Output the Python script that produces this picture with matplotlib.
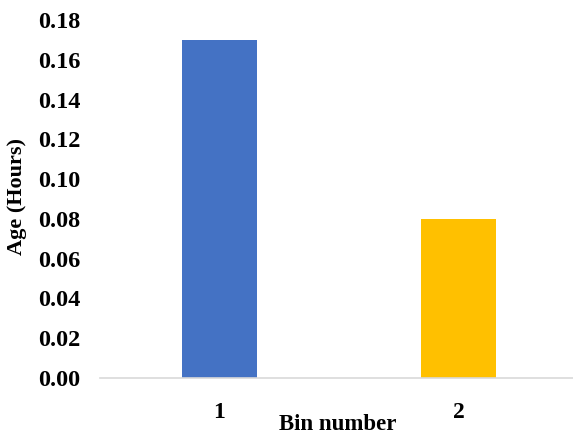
import matplotlib
matplotlib.use("Agg")
import matplotlib.pyplot as plt

# Data
bins = ["1", "2"]
age_hours = [0.17, 0.08]
bar_colors = ["#4472C4", "#FFC000"]
y_ticks = [0.00, 0.02, 0.04, 0.06, 0.08, 0.10, 0.12, 0.14, 0.16, 0.18]

plt.rcParams["font.family"] = ["Liberation Serif", "DejaVu Serif"]
plt.rcParams["font.weight"] = "bold"

W, H = 573, 434
fig = plt.figure(figsize=(W / 100, H / 100), dpi=100)

# plot area in pixel terms: x 100..578, y 20..378
left, right, top, bottom = 100, 578, 20, 378
ax = fig.add_axes([left / W, 1 - bottom / H, (right - left) / W, (bottom - top) / H])

x = list(range(1, len(bins) + 1))
ax.bar(x, age_hours, width=0.314, color=bar_colors, zorder=2)

ax.set_xlim(0.5, len(bins) + 0.5)
ax.set_ylim(0, 0.18)
ax.set_yticks(y_ticks)
ax.set_yticklabels([f"{v:.2f}" for v in y_ticks])
ax.set_xticks(x)
ax.set_xticklabels(bins)

for s in ["top", "right", "left"]:
    ax.spines[s].set_visible(False)
ax.spines["bottom"].set_color("#D9D9D9")
ax.spines["bottom"].set_linewidth(1.2)

ax.tick_params(axis="y", length=0, pad=14, labelsize=17.5)
ax.tick_params(axis="x", length=0, pad=17, labelsize=17)
for lab in ax.get_xticklabels() + ax.get_yticklabels():
    lab.set_fontweight("bold")

fig.text(17 / W, 1 - 196 / H, "Age (Hours)", rotation=90, ha="center", va="center",
         fontsize=16, fontweight="bold")
fig.text(338 / W, 1 - 430 / H, "Bin number", ha="center", va="baseline",
         fontsize=16.5, fontweight="bold")

fig.savefig("out.png", dpi=100, facecolor="white")
